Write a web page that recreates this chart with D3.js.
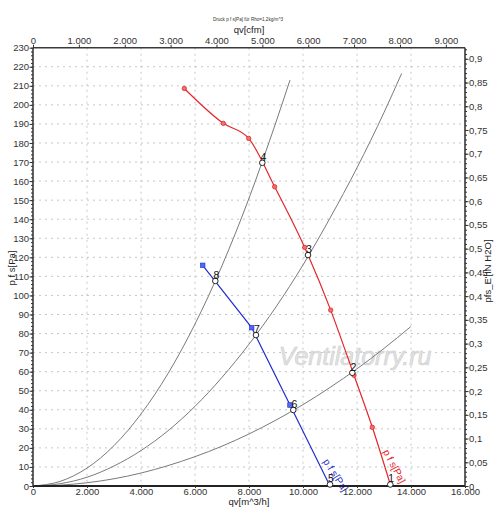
<!DOCTYPE html>
<html><head><meta charset="utf-8">
<script src="https://cdn.jsdelivr.net/npm/d3@7"></script>
<style>body{margin:0;background:#fff}svg{display:block;font-family:"Liberation Sans",Arial,sans-serif}</style>
</head><body><svg id="c" width="500" height="518"></svg>
<script>
// ---- data (qv in m^3/h, p in Pa) ----
const redCurve = [[5604,208.6],[7048,190.3],[7989,182.4],[8951,157.0],[10062,125.2],[11025,92.3],[11889,58.1],[12568,30.8],[13250,0]];
const redMarkers = [[5604,208.6],[7048,190.3],[7989,182.4],[8951,157.0],[10062,125.2],[11025,92.3],[11889,58.1],[12568,30.8]];
const blueCurve = [[6285,115.8],[8099,83.1],[9519,42.5],[11000,0]];
const blueMarkers = [[6285,115.8],[8099,83.1],[9519,42.5]];
const systemA = [[0,0],[1000,2.4],[2000,9.4],[3000,21.2],[4000,37.8],[5000,59],[6000,85],[7000,115.6],[8000,151],[9000,191],[9519,213]];
const systemB = [[0,0],[1000,1.2],[2000,4.6],[3000,10.5],[4000,18.6],[5000,29],[6000,41.8],[7000,57],[8000,74.4],[9000,94],[10000,116],[11000,140.6],[12000,167],[13000,196],[13654,216.5]];
const systemC = [[0,0],[1000,0.43],[2000,1.7],[3000,3.8],[4000,6.8],[5000,10.7],[6000,15.4],[7000,20.9],[8000,27.3],[9000,34.6],[10000,42.7],[11000,51.7],[12000,61.5],[13000,72.2],[13989,83.6]];
const opPoints = [
  {n:"1",q:13233,p:0.8},{n:"2",q:11826,p:59.4},{n:"3",q:10185,p:121.2},{n:"4",q:8493,p:169.6},
  {n:"5",q:11000,p:0.8},{n:"6",q:9641,p:39.9},{n:"7",q:8259,p:79.2},{n:"8",q:6752,p:107.6}];
const xTicks = [0,2000,4000,6000,8000,10000,12000,14000,16000];
const xTopTicks = [0,1000,2000,3000,4000,5000,6000,7000,8000,9000];
const yTicks = d3.range(0,231,10);
const yMinorTicks = d3.range(0,231,2);
const rTicks = d3.range(0,0.9001,0.05);
const rMinorTicks = d3.range(0,0.921,0.01);
const titleText = "Druck p f s[Pa] für Rho=1,2kg/m^3";
const CFM_PER_M3H = 0.5886, PA_PER_INH2O = 249.089;

// ---- layout ----
const L=33, R=465, T=47.7, B=486;
const svg = d3.select("#c");
const loc = d3.formatLocale({decimal:",",thousands:".",grouping:[3],currency:["",""]});
const fInt = loc.format(",d"), fDec = loc.format(".2~f");

const x = d3.scaleLinear().domain([0,16000]).range([L,R]);
const xTop = d3.scaleLinear().domain([0,16000*CFM_PER_M3H]).range([L,R]);
const y = d3.scaleLinear().domain([0,230]).range([B,T]);
const yR = d3.scaleLinear().domain([0,230/PA_PER_INH2O]).range([B,T]);

// grid
const grid = svg.append("g").attr("stroke","#b8b8b8").attr("stroke-width",0.8).attr("stroke-dasharray","2,4");
grid.selectAll("line.h").data(yTicks.filter(d=>d>0&&d<230)).join("line")
  .attr("x1",L).attr("x2",R).attr("y1",d=>y(d)).attr("y2",d=>y(d));
grid.selectAll("line.v").data(xTicks.filter(d=>d>0&&d<16000)).join("line")
  .attr("y1",T).attr("y2",B).attr("x1",d=>x(d)).attr("x2",d=>x(d));

// watermark
svg.append("text").attr("x",x(9100)).attr("y",y(63.5)).attr("font-size",25).attr("font-style","italic")
  .attr("fill","#e2e2e2").attr("stroke","#cfcfcf").attr("stroke-width",0.6).text("Ventilatorry.ru");

// system curves
const line = d3.line().x(d=>x(d[0])).y(d=>y(d[1])).curve(d3.curveMonotoneX);
[systemA,systemB,systemC].forEach(s=>svg.append("path").attr("d",line(s)).attr("fill","none").attr("stroke","#7a7a7a").attr("stroke-width",1));

// fan curves
svg.append("path").attr("d",line(redCurve)).attr("fill","none").attr("stroke","#e3262b").attr("stroke-width",1.2);
svg.append("path").attr("d",d3.line().x(d=>x(d[0])).y(d=>y(d[1]))(blueCurve)).attr("fill","none").attr("stroke","#1f2fcf").attr("stroke-width",1.2);
svg.selectAll("circle.rm").data(redMarkers).join("circle").attr("cx",d=>x(d[0])).attr("cy",d=>y(d[1])).attr("r",2.2)
  .attr("fill","#f07070").attr("stroke","#e3262b").attr("stroke-width",0.8);
svg.selectAll("rect.bm").data(blueMarkers).join("rect").attr("x",d=>x(d[0])-2.3).attr("y",d=>y(d[1])-2.3).attr("width",4.6).attr("height",4.6)
  .attr("fill","#5566f0").attr("stroke","#1f2fcf").attr("stroke-width",0.6);

// curve labels
svg.append("text").attr("transform",`translate(${x(10730)},${y(12.8)}) rotate(57)`).attr("font-size",10).attr("fill","#1f2fcf").text("p f s[Pa]");
svg.append("text").attr("transform",`translate(${x(12952)},${y(18)}) rotate(62)`).attr("font-size",10).attr("fill","#e3262b").text("p f s[Pa]");

// frame
const fr = svg.append("g").attr("stroke","#3a3a3a").attr("stroke-width",1.6);
fr.append("line").attr("x1",L).attr("x2",R).attr("y1",T).attr("y2",T);
fr.append("line").attr("x1",L).attr("x2",R).attr("y1",B).attr("y2",B).attr("stroke","#222").attr("stroke-width",2);
fr.append("line").attr("x1",L).attr("x2",L).attr("y1",T).attr("y2",B);
fr.append("line").attr("x1",R).attr("x2",R).attr("y1",T).attr("y2",B);

// operating points
const op = svg.append("g");
op.selectAll("circle").data(opPoints).join("circle").attr("cx",d=>x(d.q)).attr("cy",d=>y(d.p)).attr("r",2.8)
  .attr("fill","#fff").attr("stroke","#111").attr("stroke-width",0.9);
op.selectAll("text").data(opPoints).join("text").attr("x",d=>x(d.q)+1).attr("y",d=>y(d.p)-2).attr("text-anchor","middle")
  .attr("font-size",10.5).attr("fill","#111").text(d=>d.n);

// axes
function styleAxis(g){ g.select(".domain").remove(); g.selectAll("line").attr("stroke","#333");
  g.selectAll("text").attr("fill","#333").attr("font-size",9.5).attr("font-family","Liberation Sans, Arial, sans-serif"); }
svg.append("g").attr("transform",`translate(0,${B})`).call(d3.axisBottom(x).tickValues(xTicks).tickFormat(fInt).tickSize(2).tickPadding(0.5)).call(styleAxis);
svg.append("g").attr("transform",`translate(0,${T})`).call(d3.axisTop(xTop).tickValues(xTopTicks).tickFormat(fInt).tickSize(3).tickPadding(1)).call(styleAxis);
svg.append("g").attr("transform",`translate(${L},0)`).call(d3.axisLeft(y).tickValues(yMinorTicks).tickFormat("").tickSize(2)).call(styleAxis);
svg.append("g").attr("transform",`translate(${L},0)`).call(d3.axisLeft(y).tickValues(yTicks).tickFormat(fInt).tickSize(3.5).tickPadding(0.5)).call(styleAxis);
svg.append("g").attr("transform",`translate(${R},0)`).call(d3.axisRight(yR).tickValues(rMinorTicks).tickFormat("").tickSize(2)).call(styleAxis);
svg.append("g").attr("transform",`translate(${R},0)`).call(d3.axisRight(yR).tickValues(rTicks).tickFormat(fDec).tickSize(3.5).tickPadding(0.5)).call(styleAxis);

// titles
svg.append("text").attr("x",248).attr("y",21).attr("text-anchor","middle").attr("font-size",4.6).attr("fill","#333").text(titleText);
svg.append("text").attr("x",249).attr("y",33).attr("text-anchor","middle").attr("font-size",9.5).attr("fill","#222").text("qv[cfm]");
svg.append("text").attr("x",249).attr("y",505).attr("text-anchor","middle").attr("font-size",9.5).attr("fill","#222").text("qv[m^3/h]");
svg.append("text").attr("transform","translate(15,268) rotate(-90)").attr("text-anchor","middle").attr("font-size",9.5).attr("fill","#222").text("p f s[Pa]");
svg.append("text").attr("transform","translate(491,271) rotate(-90)").attr("text-anchor","middle").attr("font-size",9.5).attr("fill","#222").text("pfs_E'[IN H2O]");
</script></body></html>
